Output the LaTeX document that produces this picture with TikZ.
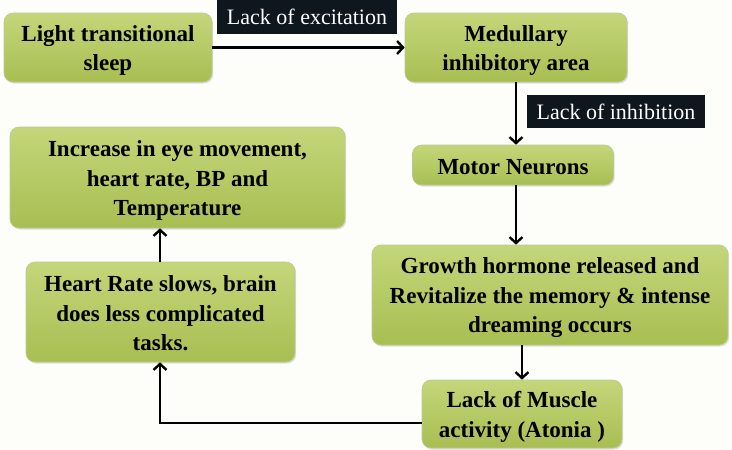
\documentclass[tikz,border=0pt]{standalone}
\usepackage{fontspec}
\setmainfont{Liberation Serif}
\usetikzlibrary{arrows.meta,shadows}
\definecolor{boxtop}{RGB}{196,214,122}
\definecolor{boxbot}{RGB}{168,190,82}
\definecolor{boxline}{RGB}{190,200,150}
\definecolor{labbg}{RGB}{14,22,30}
\definecolor{pagebg}{RGB}{253,253,250}
\newcommand\tstr{\rule{0pt}{22pt}}
\newcommand\bstr{\rule[-4pt]{0pt}{4pt}}
\begin{document}
\begin{tikzpicture}[x=1pt,y=1pt,
  greenbox/.style={rectangle, rounded corners=9pt, top color=boxtop, bottom color=boxbot,
    draw=boxline, line width=0.6pt, align=center, inner sep=0pt,
    font=\fontsize{23}{29.5}\selectfont\bfseries,
    drop shadow={opacity=0.25, shadow xshift=1.2pt, shadow yshift=-1.5pt}},
  darklabel/.style={rectangle, fill=labbg, text=white, inner sep=0pt,
    font=\fontsize{22}{26}\selectfont},
  flow/.style={line width=2.4pt, -{Straight Barb[length=6pt,width=13pt,line width=2.4pt]}},
]
\fill[pagebg] (0,0) rectangle (732,-450);
\useasboundingbox (0,0) rectangle (732,-450);

\node[greenbox, minimum width=208, minimum height=69] (b1) at (108,-47.5) {\tstr Light transitional\\sleep\bstr};
\node[greenbox, minimum width=222, minimum height=69] (b2) at (516,-47.5) {\tstr Medullary\\inhibitory area\bstr};
\node[greenbox, minimum width=201, minimum height=40] (b3) at (513,-165) {\tstr Motor Neurons\bstr};
\node[greenbox, minimum width=356, minimum height=100] (b4) at (550,-295) {\tstr Growth hormone released and\\Revitalize the memory \& intense\\dreaming occurs\bstr};
\node[greenbox, minimum width=200, minimum height=68] (b5) at (522,-414) {\tstr Lack of Muscle\\activity (Atonia )\bstr};
\node[greenbox, minimum width=269, minimum height=100] (b6) at (160.5,-312) {\tstr Heart Rate slows, brain\\does less complicated\\tasks.\bstr};
\node[greenbox, minimum width=335, minimum height=101] (b7) at (177.5,-177.5) {\tstr Increase in eye movement,\\heart rate, BP and\\Temperature\bstr};

\node[darklabel, minimum width=180, minimum height=34] (l1) at (307,-17) {Lack of excitation};
\node[darklabel, minimum width=178, minimum height=33] (l2) at (616,-111.5) {Lack of inhibition};

\draw[flow] (b1.east) -- (b2.west);
\draw[flow] (b2.south) -- (b2.south |- b3.north);
\draw[flow] (b2.south |- b3.south) -- (b2.south |- b4.north);
\draw[flow] (b5.north |- b4.south) -- (b5.north);
\coordinate (turn) at (160,-423);
\draw[flow] (b5.west |- turn) -- (turn) -- (turn |- b6.south);
\draw[flow] (turn |- b6.north) -- (turn |- b7.south);
\end{tikzpicture}
\end{document}
